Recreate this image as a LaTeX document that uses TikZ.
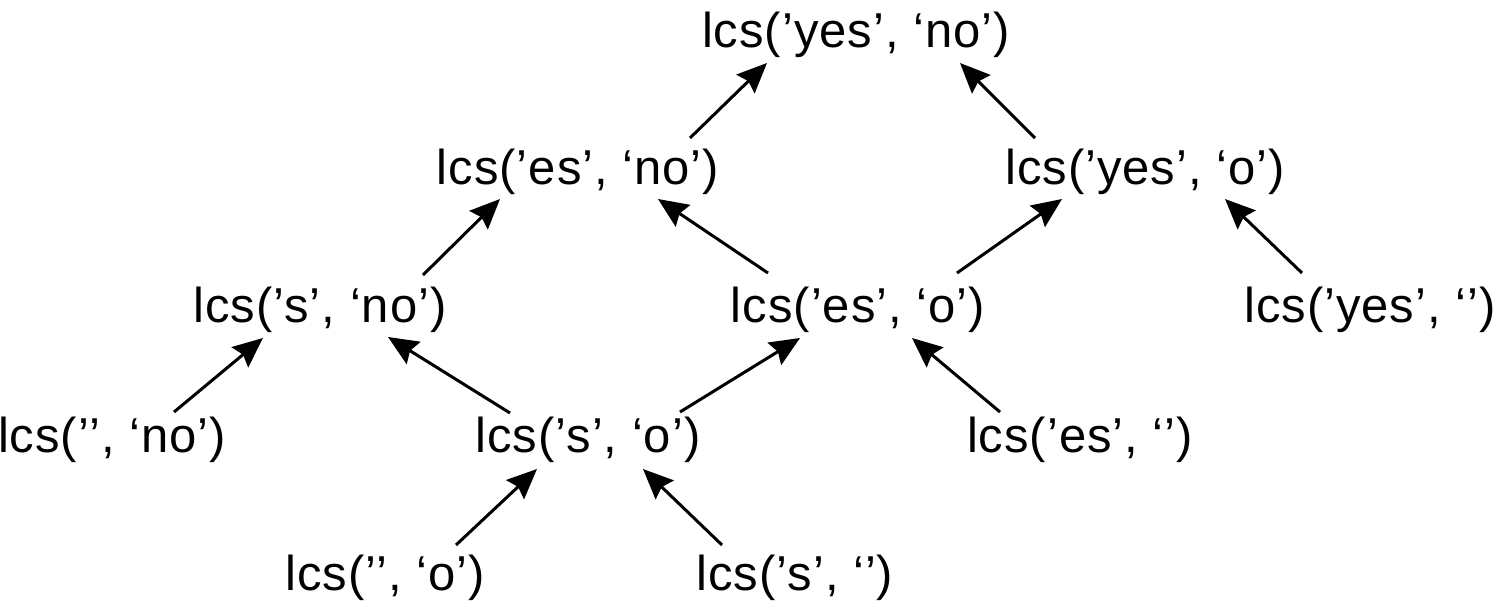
\documentclass[tikz,border=0pt]{standalone}
\usepackage{fontspec}
\setmainfont{Liberation Sans}[LetterSpace=2]
\usetikzlibrary{calc,arrows.meta}
\tikzset{
  lbl/.style={inner sep=0pt, font=\fontsize{49}{56}\selectfont, anchor=center},
  arr/.style={line width=3pt, -{Stealth[length=30pt,width=26pt,inset=4pt]}}
}
\begin{document}
\begin{tikzpicture}[x=1pt,y=-1pt]
\useasboundingbox (0,0) rectangle (1500,611);
\node[lbl] (top)  at (856,35)  {lcs(’yes’, ‘no’)};
\node[lbl] (esno) at (578,172) {lcs(’es’, ‘no’)};
\node[lbl] (yeso) at (1145,172) {lcs(’yes’, ‘o’)};
\node[lbl] (sno)  at (320,310) {lcs(’s’, ‘no’)};
\node[lbl] (eso)  at (858,310) {lcs(’es’, ‘o’)};
\node[lbl] (yesE) at (1370,310) {lcs(’yes’, ‘’)};
\node[lbl] (eno)  at (112,440) {lcs(’’, ‘no’)};
\node[lbl] (so)   at (588,440) {lcs(’s’, ‘o’)};
\node[lbl] (esE)  at (1080,440) {lcs(’es’, ‘’)};
\node[lbl] (eo)   at (385,578) {lcs(’’, ‘o’)};
\node[lbl] (sE)   at (795,578) {lcs(’s’, ‘’)};

\draw[arr] ($(esno)+(112,-34)$) -- ($(top)+(-89,28)$);
\draw[arr] ($(yeso)+(-110,-34)$) -- ($(top)+(104,28)$);
\draw[arr] ($(sno)+(103,-35)$) -- ($(esno)+(-78,27)$);
\draw[arr] ($(eso)+(-90,-37)$) -- ($(esno)+(80,27)$);
\draw[arr] ($(eso)+(99,-37)$) -- ($(yeso)+(-83,27)$);
\draw[arr] ($(yesE)+(-68,-37)$) -- ($(yeso)+(80,27)$);
\draw[arr] ($(eno)+(62,-28)$) -- ($(sno)+(-57,28)$);
\draw[arr] ($(so)+(-78,-27)$) -- ($(sno)+(68,27)$);
\draw[arr] ($(so)+(92,-28)$) -- ($(eso)+(-58,28)$);
\draw[arr] ($(esE)+(-80,-28)$) -- ($(eso)+(54,28)$);
\draw[arr] ($(eo)+(71,-33)$) -- ($(so)+(-51,29)$);
\draw[arr] ($(sE)+(-73,-33)$) -- ($(so)+(55,29)$);
\end{tikzpicture}
\end{document}
